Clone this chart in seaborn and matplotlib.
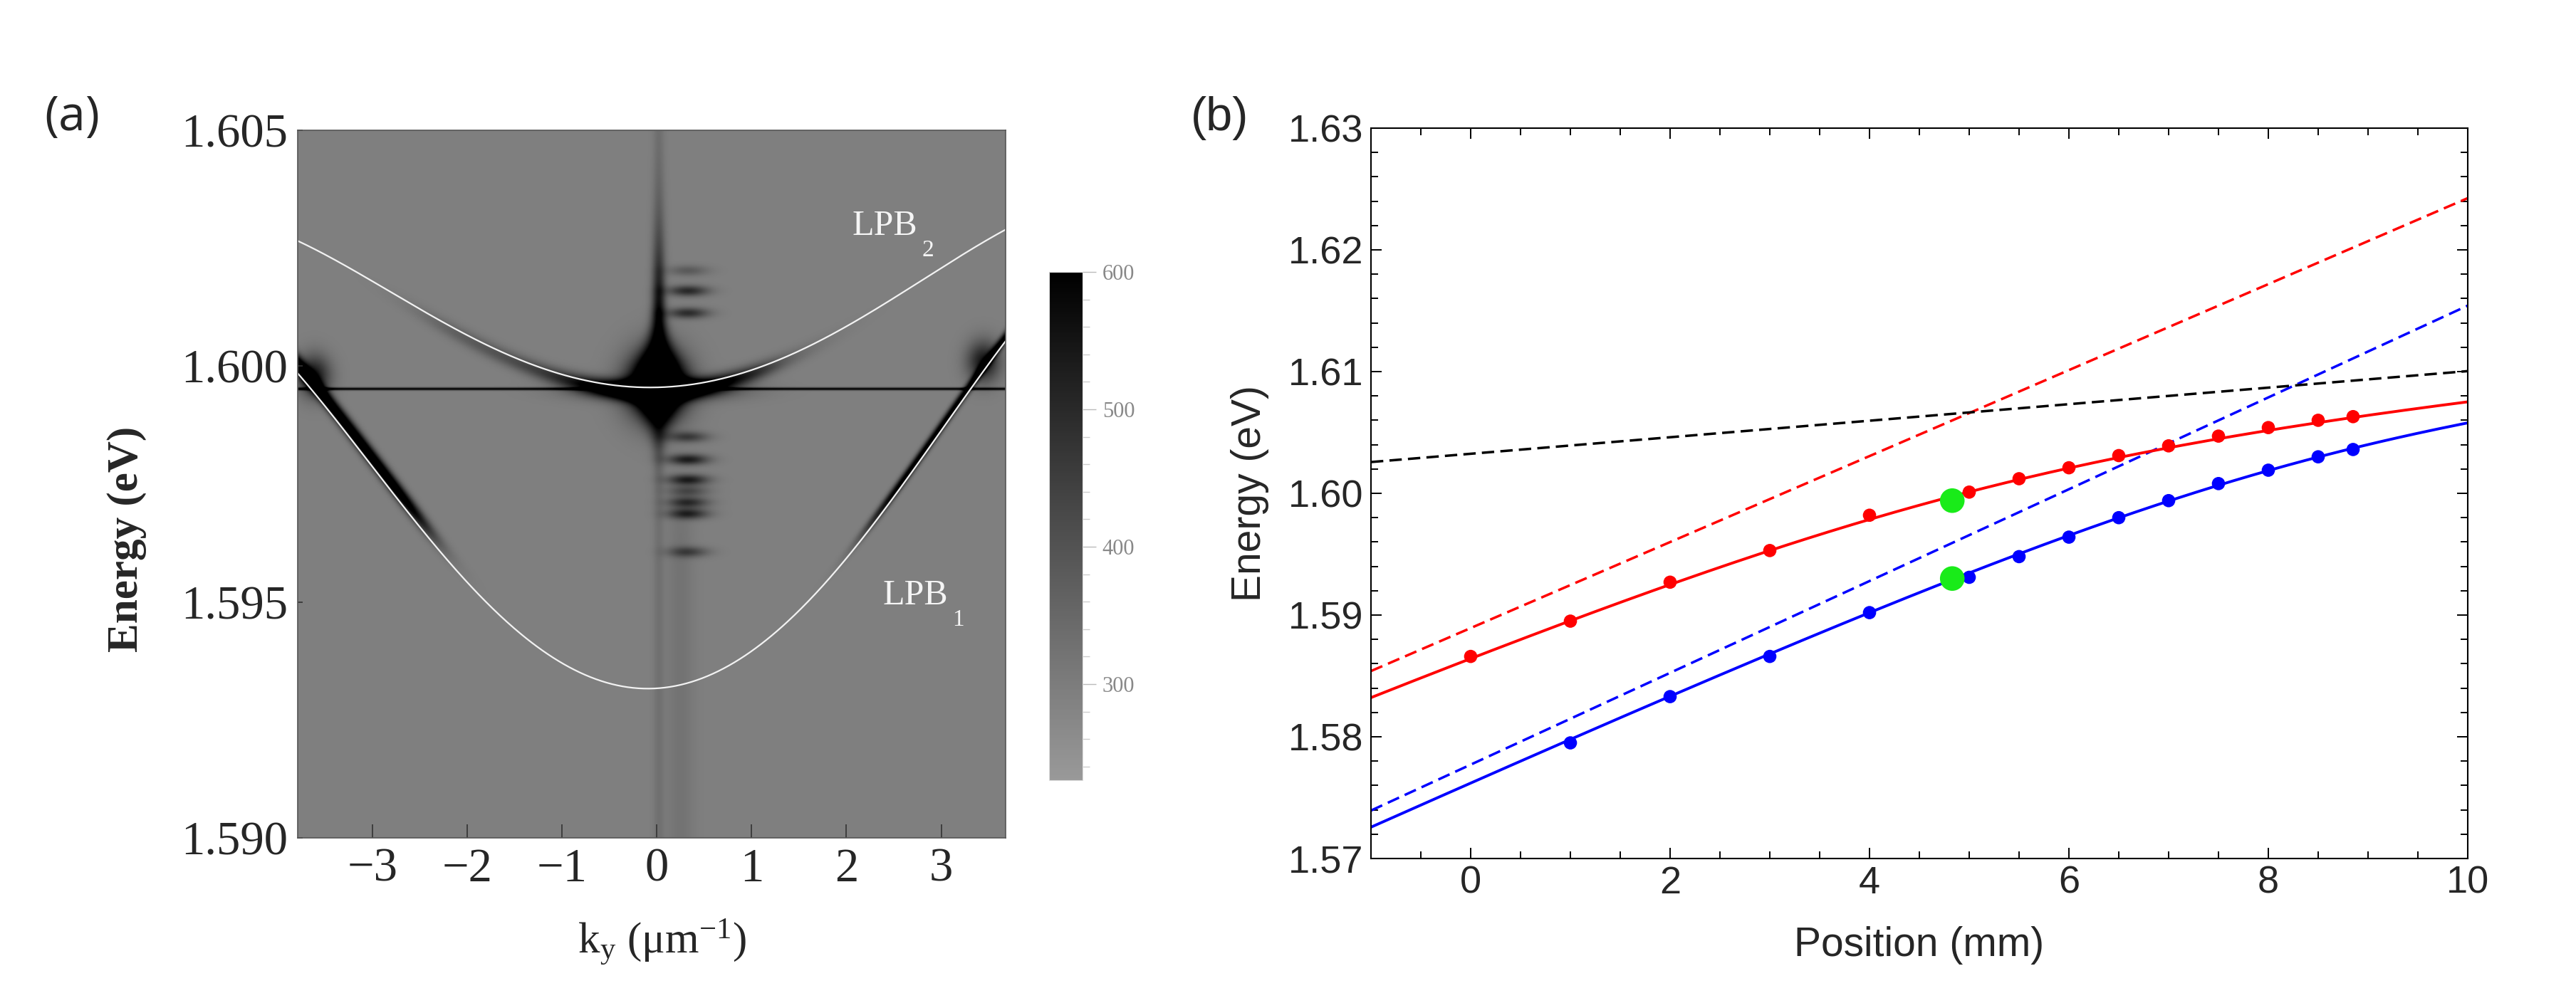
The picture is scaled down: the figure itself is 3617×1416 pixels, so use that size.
import numpy as np
import matplotlib
matplotlib.use("Agg")
import matplotlib.pyplot as plt
import seaborn as sns
from matplotlib.colors import LinearSegmentedColormap
from matplotlib.ticker import MultipleLocator

# ---------------- Panel (b) data ----------------
pos_red = [0, 1, 2, 3, 4, 5, 5.5, 6, 6.5, 7, 7.5, 8, 8.5, 8.85]
energy_red = [1.5866, 1.5895, 1.5927, 1.5953, 1.5982, 1.6001, 1.6012, 1.6021,
              1.6031, 1.6039, 1.6047, 1.6054, 1.6060, 1.6063]
pos_blue = [1, 2, 3, 4, 5, 5.5, 6, 6.5, 7, 7.5, 8, 8.5, 8.85]
energy_blue = [1.5795, 1.5833, 1.5866, 1.5902, 1.5931, 1.5948, 1.5964, 1.5980,
               1.5994, 1.6008, 1.6019, 1.6030, 1.6036]
pos_green = [4.83, 4.83]
energy_green = [1.5994, 1.5930]
line_pos = [-1, 10]
exciton_line = [1.60257, 1.61004]
photon_red_line = [1.5854, 1.62425]
photon_blue_line = [1.57394, 1.61542]
coupling_red = 0.0065
coupling_blue = 0.0064

# ---------------- Panel (a) data ----------------
k_range = [-3.79, 3.68]
E_range = [1.590, 1.605]
# dispersion fits, polynomial coefficients k^4 .. k^0
lpb1_coef = [-0.0000122, 0.0, 0.000674, 0.000128, 1.59317]
lpb2_coef = [-0.00000685, 0.0, 0.000327, 0.000047, 1.59955]
condensate_E = 1.59952
fringe_E = [1.60203, 1.60160, 1.60113, 1.5985, 1.59802, 1.59759, 1.59735,
            1.59711, 1.59687, 1.59606]
fringe_amp = [90, 210, 200, 160, 240, 240, 130, 200, 220, 150]
background_level = 292
cbar_ticks = [300, 400, 500, 600]

# ---------------- style ----------------
sns.set_theme(style="ticks")
plt.rcParams["font.family"] = ["Liberation Sans", "DejaVu Sans"]
plt.rcParams["mathtext.fontset"] = "custom"
plt.rcParams["mathtext.rm"] = "Liberation Serif"
plt.rcParams["mathtext.it"] = "Liberation Serif:italic"
plt.rcParams["lines.dashed_pattern"] = [5.0, 2.5]

W, H = 3617, 1416
fig = plt.figure(figsize=(W / 100, H / 100), dpi=100)
fig.patch.set_facecolor("white")

def box(x0, y0, x1, y1):
    return [x0 / W, 1 - y1 / H, (x1 - x0) / W, (y1 - y0) / H]

ax_a = fig.add_axes(box(418, 183, 1412, 1177))
cax = fig.add_axes(box(1473, 382, 1520, 1096))
ax_b = fig.add_axes(box(1925, 180, 3465, 1206))

# ---------------- Panel (a): intensity map ----------------
kk = np.linspace(k_range[0], k_range[1], 900)
EE = np.linspace(E_range[0], E_range[1], 1000)
K, E = np.meshgrid(kk, EE)

def gauss(x, s):
    return np.exp(-0.5 * (x / s) ** 2)

def sig(x):
    return 1.0 / (1.0 + np.exp(-x))

L1 = np.polyval(lpb1_coef, K)
L2 = np.polyval(lpb2_coef, K)
I = np.full(K.shape, float(background_level))
# emission along LPB1 (strong at large |k|)
I += 430 * sig((-K - 2.45) / 0.12) * gauss(E - (L1 + 0.00018), 0.00015)
I += 340 * sig((K - 2.25) / 0.12) * gauss(E - (L1 + 0.00008), 0.00010)
# emission along LPB2 (strong near k=0)
w2 = 320 * gauss(K - 0.05, 0.75) + 90 * sig((K + 2.4) / 0.2) * sig((1.2 - K) / 0.1)
I += w2 * gauss(E - (L2 - 0.00008), 0.00013)
# condensate line
I += 320 * gauss(E - condensate_E, 0.00002)
I += 300 * gauss(K, 0.5) * gauss(E - 1.5995, 0.00015)
# central blob
I += 420 * gauss(K - 0.0, 0.22) * gauss(E - 1.5996, 0.0005)
# vertical streak at k ~ 0
dE = E - 1.5996
prof = np.where(dE > 0, np.exp(-(dE / 0.0026) ** 2), np.exp(-(dE / 0.0011) ** 2))
I += 380 * prof * gauss(K - 0.02, 0.05 + 0.12 * gauss(dE, 0.0006))
I += 35 * gauss(K - 0.02, 0.04) + 30 * gauss(K - 0.25, 0.1) * sig((1.5972 - E) / 0.0003)
# interference fringes at k ~ 0.3
for fe, fa in zip(fringe_E, fringe_amp):
    I += fa * gauss(K - 0.33, 0.15) * gauss(E - fe, 0.00008)
# dark spots where LPB1 meets the condensate line
I += 250 * gauss(K + 3.62, 0.12) * gauss(E - 1.5998, 0.0003)
I += 250 * gauss(K - 3.45, 0.12) * gauss(E - 1.6001, 0.0003)

cmap = LinearSegmentedColormap.from_list("greys_lim", [(0.6, 0.6, 0.6), (0, 0, 0)])
im = ax_a.imshow(I, origin="lower", aspect="auto", cmap=cmap, vmin=230, vmax=600,
                 extent=[k_range[0], k_range[1], E_range[0], E_range[1]],
                 interpolation="bilinear")

kline = np.linspace(k_range[0], k_range[1], 400)
sns.lineplot(x=kline, y=np.polyval(lpb1_coef, kline), color="#f2f2f2", lw=1.6, ax=ax_a)
sns.lineplot(x=kline, y=np.polyval(lpb2_coef, kline), color="#f2f2f2", lw=1.6, ax=ax_a)

ax_a.set_xlim(k_range)
ax_a.set_ylim(E_range)
serif = ["Liberation Serif", "DejaVu Serif"]
ax_a.set_xticks([-3, -2, -1, 0, 1, 2, 3],
                labels=["\u22123", "\u22122", "\u22121", "0", "1", "2", "3"],
                fontfamily=serif, fontsize=48)
ax_a.set_yticks([1.590, 1.595, 1.600, 1.605],
                labels=["1.590", "1.595", "1.600", "1.605"],
                fontfamily=serif, fontsize=48)
ax_a.tick_params(axis="x", direction="in", length=14, width=1.2, color="#333333",
                 pad=10, top=False)
ax_a.tick_params(axis="y", direction="in", length=5, width=1.2, color="#333333",
                 pad=10, right=False)
for sp in ax_a.spines.values():
    sp.set_color("#555555")
    sp.set_linewidth(1.2)
ax_a.set_xlabel("k$_\\mathrm{y}$ (\u03bcm$^{\\mathrm{-1}}$)", fontfamily=serif, fontsize=44)
ax_a.xaxis.set_label_coords(0.515, -0.113)
ax_a.set_ylabel("Energy (eV)", fontfamily=serif, fontweight="bold", fontsize=44)
ax_a.yaxis.set_label_coords(-0.213, 0.4225)

ax_a.text(2.06, 1.60278, "LPB", color="#f5f5f5", fontsize=36,
          fontfamily=serif, ha="left", va="baseline")
ax_a.text(2.38, 1.59495, "LPB", color="#f5f5f5", fontsize=36,
          fontfamily=serif, ha="left", va="baseline")
ax_a.text(2.06 + 0.74, 1.60278 - 0.00045, "2", color="#f5f5f5", fontsize=24,
          fontfamily=serif, ha="left", va="baseline")
ax_a.text(2.38 + 0.74, 1.59495 - 0.00045, "1", color="#f5f5f5", fontsize=24,
          fontfamily=serif, ha="left", va="baseline")

cb = fig.colorbar(im, cax=cax)
cb.outline.set_edgecolor("#dddddd")
cb.outline.set_linewidth(0.8)
cax.set_yticks(cbar_ticks, labels=[str(t) for t in cbar_ticks],
               fontfamily=serif, fontsize=22, color="#888888")
cax.yaxis.set_minor_locator(MultipleLocator(20))
cax.tick_params(which="major", length=14, width=1, color="#bbbbbb", pad=6)
cax.tick_params(which="minor", length=7, width=1, color="#cccccc")

# ---------------- Panel (b) ----------------
x_fine = np.linspace(line_pos[0], line_pos[1], 300)
ex_f = np.interp(x_fine, line_pos, exciton_line)
cr_f = np.interp(x_fine, line_pos, photon_red_line)
cbl_f = np.interp(x_fine, line_pos, photon_blue_line)

def lower_polariton(ec, ex, g):
    return 0.5 * (ec + ex) - np.sqrt(0.25 * (ec - ex) ** 2 + g ** 2)

lw_s, lw_d = 2.8, 2.5
sns.lineplot(x=line_pos, y=photon_red_line, color="#ff0000", lw=lw_d, ls="--", ax=ax_b)
sns.lineplot(x=line_pos, y=photon_blue_line, color="#0000ff", lw=lw_d, ls="--", ax=ax_b)
sns.lineplot(x=line_pos, y=exciton_line, color="#000000", lw=lw_d, ls="--", ax=ax_b)
sns.lineplot(x=x_fine, y=lower_polariton(cr_f, ex_f, coupling_red), color="#ff0000",
             lw=lw_s, ax=ax_b)
sns.lineplot(x=x_fine, y=lower_polariton(cbl_f, ex_f, coupling_blue), color="#0000ff",
             lw=lw_s, ax=ax_b)
sns.scatterplot(x=pos_red, y=energy_red, color="#ff0000", s=180, edgecolor="none",
                ax=ax_b, zorder=4)
sns.scatterplot(x=pos_blue, y=energy_blue, color="#0000ff", s=180, edgecolor="none",
                ax=ax_b, zorder=4)
sns.scatterplot(x=pos_green, y=energy_green, color="#19eb19", s=620, edgecolor="none",
                ax=ax_b, zorder=5)

ax_b.set_xlim(-1, 10)
ax_b.set_ylim(1.57, 1.63)
ax_b.set_xticks([0, 2, 4, 6, 8, 10], labels=["0", "2", "4", "6", "8", "10"], fontsize=39)
ax_b.set_yticks([1.57, 1.58, 1.59, 1.60, 1.61, 1.62, 1.63],
                labels=["1.57", "1.58", "1.59", "1.60", "1.61", "1.62", "1.63"], fontsize=39)
ax_b.xaxis.set_minor_locator(MultipleLocator(0.5))
ax_b.yaxis.set_minor_locator(MultipleLocator(0.002))
ax_b.tick_params(which="both", direction="in", top=True, right=True, width=1.4,
                 color="black")
ax_b.tick_params(which="major", length=11)
ax_b.tick_params(which="minor", length=7)
ax_b.tick_params(axis="x", which="major", pad=7)
ax_b.tick_params(axis="y", which="major", pad=8)
for sp in ax_b.spines.values():
    sp.set_color("black")
    sp.set_linewidth(1.5)
ax_b.set_xlabel("Position (mm)", fontsize=41)
ax_b.xaxis.set_label_coords(0.5, -0.093)
ax_b.set_ylabel("Energy (eV)", fontsize=41)
ax_b.yaxis.set_label_coords(-0.093, 0.5)

fig.text(62 / W, 1 - 132 / H, "(a)", fontsize=49, ha="left", va="top",
         fontfamily=["Open Sans", "DejaVu Sans"])
fig.text(1672 / W, 1 - 135 / H, "(b)", fontsize=48, ha="left", va="top",
         fontfamily=["Liberation Sans", "DejaVu Sans"])

fig.savefig("out.png", dpi=100, facecolor="white")
